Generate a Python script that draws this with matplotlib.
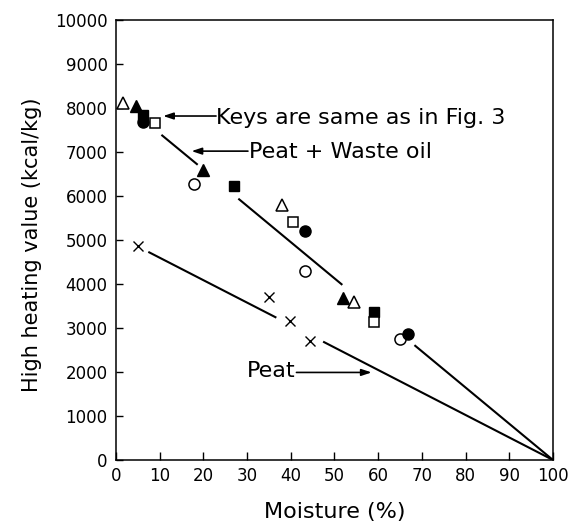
import matplotlib
matplotlib.use("Agg")
import matplotlib.pyplot as plt

plt.rcParams['font.family'] = ['DejaVu Sans']

# heating value vs moisture, one list pair per key
open_tri_x = [1.7, 38.1, 54.5]
open_tri_y = [8110, 5800, 3600]
fill_tri_x = [4.6, 19.8, 52.0]
fill_tri_y = [8045, 6600, 3675]
fill_sq_x = [6.2, 27.0, 59.1]
fill_sq_y = [7840, 6235, 3370]
open_sq_x = [8.9, 40.4, 59.1]
open_sq_y = [7660, 5420, 3130]
fill_ci_x = [6.1, 43.2, 66.9]
fill_ci_y = [7690, 5205, 2865]
open_ci_x = [17.8, 43.2, 65.0]
open_ci_y = [6275, 4300, 2745]
peat_x = [5.1, 35.0, 39.8, 44.4]
peat_y = [4865, 3712, 3167, 2712]

# fitted lines, drawn as broken segments (start, end)
oil_segs = [((10.4, 7390), (18.7, 6710)),
            ((28.0, 5940), (51.8, 3980)),
            ((68.3, 2610), (100, 0))]
peat_segs = [((7.4, 4730), (36.7, 3235)),
             ((47.4, 2690), (100, 0))]

xticks = list(range(0, 101, 10))
yticks = list(range(0, 10001, 1000))

fig = plt.figure(figsize=(5.75, 5.28), dpi=100)
ax = fig.add_axes([0.2017, 0.1288, 0.76, 0.8333])

for (x0, y0), (x1, y1) in oil_segs + peat_segs:
    ax.plot([x0, x1], [y0, y1], color='black', lw=1.5, solid_capstyle='butt')

ms = 8
ax.plot(open_tri_x, open_tri_y, '^', ms=ms + 1, mfc='white', mec='black', mew=1.1, ls='none')
ax.plot(fill_tri_x, fill_tri_y, '^', ms=ms + 1, color='black', ls='none')
ax.plot(fill_sq_x, fill_sq_y, 's', ms=ms - 1, color='black', ls='none')
ax.plot(open_sq_x, open_sq_y, 's', ms=ms - 1, mfc='white', mec='black', mew=1.1, ls='none')
ax.plot(open_ci_x, open_ci_y, 'o', ms=ms, mfc='white', mec='black', mew=1.1, ls='none')
ax.plot(fill_ci_x, fill_ci_y, 'o', ms=ms, color='black', ls='none')
ax.plot(peat_x, peat_y, 'x', ms=7, color='black', mew=1.0, ls='none')

arrow = dict(arrowstyle='-|>,head_length=0.6,head_width=0.2', color='black',
             lw=1.2, shrinkA=0, shrinkB=0)
ax.annotate('', xy=(10.8, 7818), xytext=(22.9, 7818), arrowprops=arrow)
ax.text(23.0, 7773, 'Keys are same as in Fig. 3', fontsize=16, va='center', ha='left')
ax.annotate('', xy=(17.3, 7020), xytext=(30.2, 7020), arrowprops=arrow)
ax.text(30.4, 7000, 'Peat + Waste oil', fontsize=16, va='center', ha='left')
ax.annotate('', xy=(58.5, 1990), xytext=(41.3, 1990), arrowprops=arrow)
ax.text(41.0, 2030, 'Peat', fontsize=16, va='center', ha='right')

ax.set_xlim(0, 100)
ax.set_ylim(0, 10000)
ax.set_xticks(xticks)
ax.set_yticks(yticks)
ax.tick_params(axis='x', direction='in', length=6, width=1, pad=5, labelsize=12)
ax.tick_params(axis='y', direction='in', length=5, width=1, pad=6, labelsize=12)
for s in ax.spines.values():
    s.set_linewidth(1.1)

fig.text(0.0557, 0.536, 'High heating value (kcal/kg)', rotation=90,
         fontsize=15, ha='center', va='center')
fig.text(0.5817, 0.0303, 'Moisture (%)', fontsize=16, ha='center', va='center')

fig.savefig('out.png', dpi=100)
